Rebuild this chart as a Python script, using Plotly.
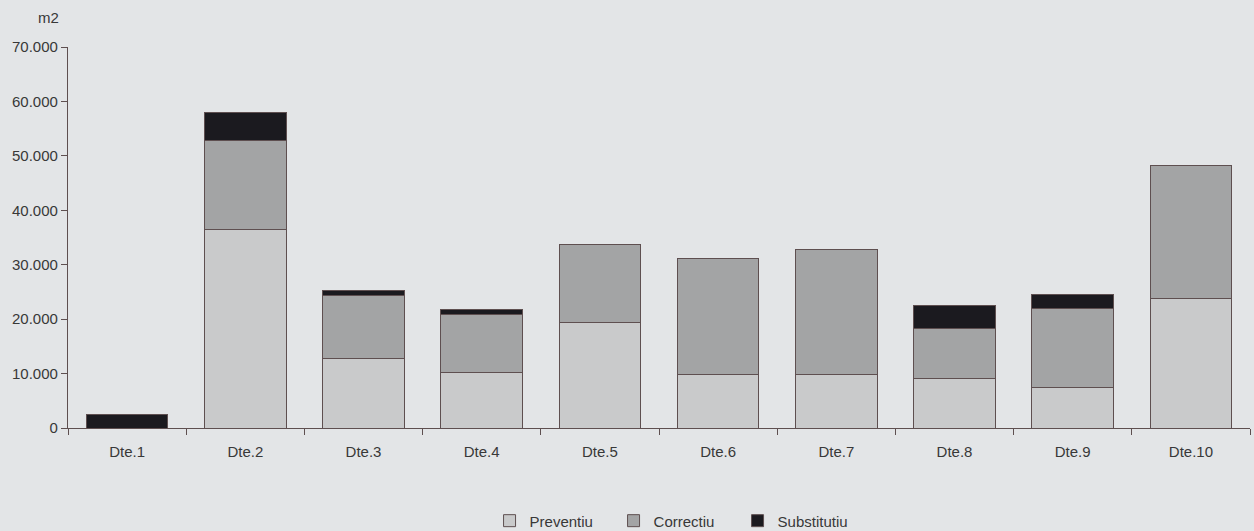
import plotly.graph_objects as go

categories = ["Dte.1", "Dte.2", "Dte.3", "Dte.4", "Dte.5", "Dte.6", "Dte.7", "Dte.8", "Dte.9", "Dte.10"]
preventiu = [0, 36400, 12700, 10150, 19450, 9900, 9900, 9100, 7400, 23750]
correctiu = [0, 16500, 11700, 10750, 14200, 21250, 22850, 9100, 14500, 24500]
substitutiu = [2400, 5100, 870, 930, 0, 0, 0, 4300, 2650, 0]
y_ticks = [0, 10000, 20000, 30000, 40000, 50000, 60000, 70000]
y_tick_labels = ["0", "10.000", "20.000", "30.000", "40.000", "50.000", "60.000", "70.000"]

BG = "#e3e5e7"
LINE = "#5e4f50"
FONT = "Liberation Sans, Arial, sans-serif"
TXT = "#383838"

fig = go.Figure()
series = [
    ("Preventiu", preventiu, "#c9cacb"),
    ("Correctiu", correctiu, "#a3a4a5"),
    ("Substitutiu", substitutiu, "#1b1a1f"),
]
for name, vals, col in series:
    fig.add_trace(go.Bar(
        x=categories, y=vals, name=name,
        marker=dict(color=col, line=dict(color=LINE, width=1)),
    ))

fig.update_layout(
    barmode="stack",
    bargap=0.31,
    width=1254, height=531,
    paper_bgcolor=BG, plot_bgcolor=BG,
    margin=dict(l=68, r=4, t=47, b=103, autoexpand=False),
    font=dict(family=FONT, size=15, color=TXT),
    showlegend=True,
    legend=dict(
        orientation="h", x=0.514, xanchor="center",
        yref="container", y=0.019, yanchor="middle",
        font=dict(size=15, color=TXT), bgcolor="rgba(0,0,0,0)",
        traceorder="normal", entrywidth=79,
    ),
    xaxis=dict(
        showline=True, linecolor=LINE, linewidth=1.2,
        ticks="outside", ticklen=6, tickcolor=LINE, tickwidth=1.2,
        tickson="boundaries", showgrid=False, ticklabelstandoff=10,
        tickfont=dict(size=15, color=TXT), automargin=False,
    ),
    yaxis=dict(
        range=[0, 70000], showline=True, linecolor=LINE, linewidth=1.2,
        ticks="outside", ticklen=6, tickcolor=LINE, tickwidth=1.2,
        tickvals=y_ticks, ticktext=y_tick_labels, showgrid=False, zeroline=False,
        tickfont=dict(size=15, color=TXT), automargin=False,
    ),
    annotations=[dict(
        text="m2", xref="paper", yref="paper", x=-0.006, y=1.0, yshift=30,
        xanchor="right", yanchor="middle", showarrow=False,
        font=dict(size=15, color=TXT),
    )],
)

fig.write_html(
    "out.html",
    config={"displayModeBar": False},
    post_script="document.body.style.margin='0';document.body.style.background='#e3e5e7';",
)
